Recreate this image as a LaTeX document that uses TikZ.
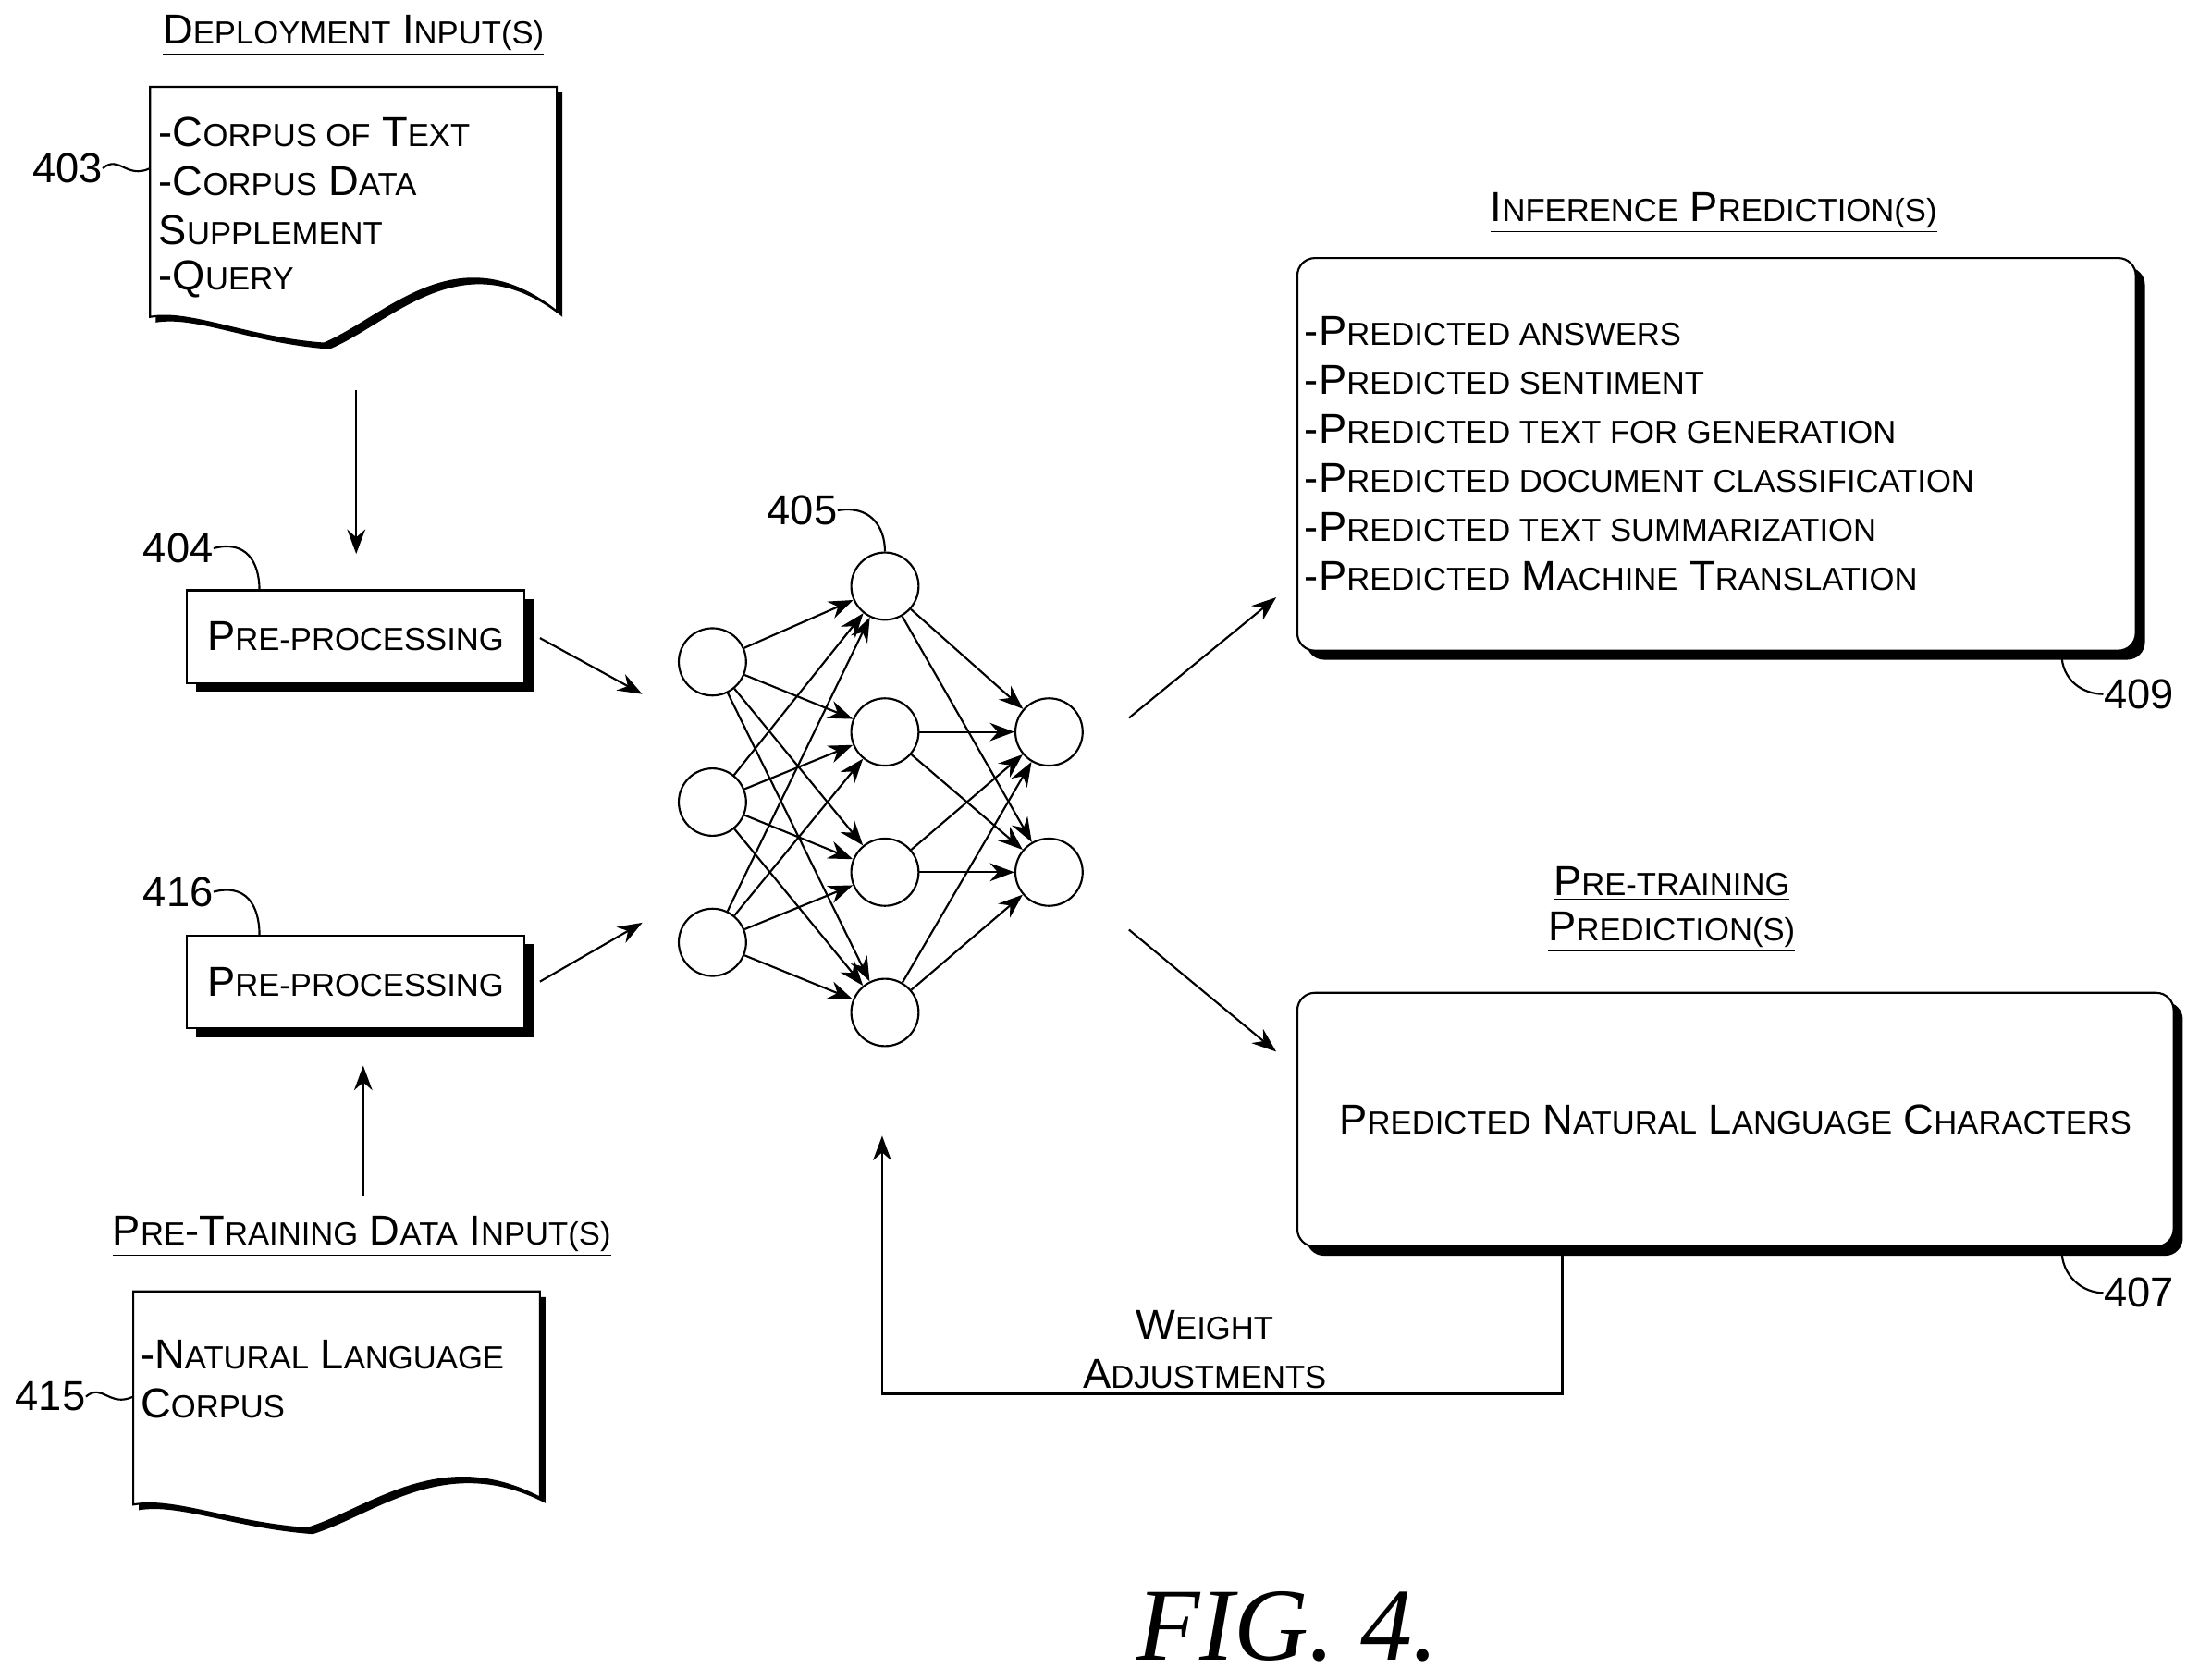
\documentclass[tikz,border=0pt]{standalone}
\usepackage{fontspec}
\setmainfont{Liberation Sans}
\newfontfamily\figfont{Liberation Serif}
\usetikzlibrary{positioning,shadows,arrows.meta}
\newcommand{\sm}[1]{{\fontsize{13}{16}\selectfont #1}}
\tikzset{
  txt/.style={font=\fontsize{17}{20}\selectfont, inner sep=0pt},
  box/.style={draw, thick, fill=white, drop shadow={shadow xshift=1.3mm, shadow yshift=-1.3mm, fill=black, opacity=1}},
  neuron/.style={draw, thick, circle, fill=white, minimum size=0.96cm, inner sep=0pt},
  flow/.style={-{Stealth[length=3.5mm,width=2.6mm]}, thick},
  tag/.style={thick},
}
\begin{document}
\begin{tikzpicture}[x=0.02cm,y=-0.02cm]
  \useasboundingbox (0,0) rectangle (1568,1198);
  % Deployment inputs
  \node[txt] (depT) at (252,25) {\underline{D\sm{EPLOYMENT} I\sm{NPUT(S)}}};
  \fill[black] (111,66) -- (401,66) -- (401,226) .. controls (330,170) and (280,230) .. (235,249) .. controls (180,245) and (140,225) .. (111,230) -- cycle;
  \draw[thick,fill=white] (107,62) -- (397,62) -- (397,222) .. controls (326,166) and (276,226) .. (231,245) .. controls (176,241) and (136,221) .. (107,226) -- cycle;
  \node[txt,anchor=west] (dep1) at (113,94) {-C\sm{ORPUS OF} T\sm{EXT}};
  \node[txt,anchor=west] (dep2) at (113,129) {-C\sm{ORPUS} D\sm{ATA}};
  \node[txt,anchor=west] (dep3) at (113,164) {S\sm{UPPLEMENT}};
  \node[txt,anchor=west] (dep4) at (113,199) {-Q\sm{UERY}};
  \node[txt] (l403) at (48,120) {403};
  \draw[tag] (l403.east) .. controls (85,110) and (90,128) .. (107,120);
  % pre-processing
  \node[box, txt, minimum width=4.82cm, minimum height=1.32cm] (pre1) at (253.5,454) {P\sm{RE-PROCESSING}};
  \node[box, txt, minimum width=4.82cm, minimum height=1.32cm] (pre2) at (253.5,700) {P\sm{RE-PROCESSING}};
  \node[txt] (l404) at (127,391) {404};
  \draw[tag] (l404.east) .. controls (175,385) and (185,400) .. (185,421);
  \node[txt] (l416) at (127,636) {416};
  \draw[tag] (l416.east) .. controls (175,630) and (185,645) .. (185,667);
  \coordinate (a1) at (254,278); \coordinate (a2) at (254,395);
  \draw[flow] (a1) -- (a2);
  \coordinate (b1) at (259,853); \coordinate (b2) at (259,760);
  \draw[flow] (b1) -- (b2);
  % pre-training inputs
  \node[txt] (ptT) at (258,882) {\underline{P\sm{RE}-T\sm{RAINING} D\sm{ATA} I\sm{NPUT(S)}}};
  \fill[black] (99,925) -- (389,925) -- (389,1072) .. controls (318,1035) and (268,1080) .. (223,1094) .. controls (168,1090) and (128,1072) .. (99,1077) -- cycle;
  \draw[thick,fill=white] (95,921) -- (385,921) -- (385,1068) .. controls (314,1031) and (264,1076) .. (219,1090) .. controls (164,1086) and (124,1068) .. (95,1073) -- cycle;
  \node[txt,anchor=west] (pt1) at (100,966) {-N\sm{ATURAL} L\sm{ANGUAGE}};
  \node[txt,anchor=west] (pt2) at (100,1001) {C\sm{ORPUS}};
  \node[txt] (l415) at (36,996) {415};
  \draw[tag] (l415.east) .. controls (73,986) and (78,1004) .. (95,996);
  % network
  \foreach \i/\y in {1/472,2/572,3/672} \node[neuron] (in\i) at (508,\y) {};
  \foreach \i/\y in {1/418,2/522,3/622,4/722} \node[neuron] (h\i) at (631,\y) {};
  \foreach \i/\y in {1/522,2/622} \node[neuron] (out\i) at (748,\y) {};
  \foreach \i in {1,2,3} \foreach \j in {1,2,3,4} \draw[flow] (in\i) -- (h\j);
  \foreach \j in {1,2,3,4} \foreach \k in {1,2} \draw[flow] (h\j) -- (out\k);
  \node[txt] (l405) at (572,364) {405};
  \draw[tag] (l405.east) .. controls (620,360) and (631,375) .. (h1.north);
  \coordinate (c1) at (385,455); \coordinate (c2) at (458,495);
  \coordinate (d1) at (385,700); \coordinate (d2) at (458,658);
  \draw[flow] (c1) -- (c2);
  \draw[flow] (d1) -- (d2);
  \coordinate (e1) at (805,512); \coordinate (e2) at (910,426);
  \coordinate (f1) at (805,663); \coordinate (f2) at (910,750);
  \draw[flow] (e1) -- (e2);
  \draw[flow] (f1) -- (f2);
  % inference
  \node[txt] (infT) at (1222,152) {\underline{I\sm{NFERENCE} P\sm{REDICTION(S)}}};
  \node[box, rounded corners=0.25cm, minimum width=11.96cm, minimum height=5.6cm] (inf) at (1224,324) {};
  \foreach \t [count=\n] in {-P\sm{REDICTED ANSWERS},-P\sm{REDICTED SENTIMENT},-P\sm{REDICTED TEXT FOR GENERATION},-P\sm{REDICTED DOCUMENT CLASSIFICATION},-P\sm{REDICTED TEXT SUMMARIZATION},-P\sm{REDICTED} M\sm{ACHINE} T\sm{RANSLATION}}
    \node[txt,anchor=west] (inf\n) at (930,201+35*\n) {\t};
  \node[txt] (l409) at (1525,495) {409};
  \draw[tag] (1470,466) .. controls (1470,485) and (1485,495) .. (l409.west);
  % pre-training prediction
  \node[txt] (ppT1) at (1192,630) {\underline{P\sm{RE-TRAINING}}};
  \node[txt] (ppT2) at (1192,665) {\underline{P\sm{REDICTION(S)}}};
  \node[box, rounded corners=0.25cm, minimum width=12.5cm, minimum height=3.62cm, txt] (pp) at (1237.5,798.5) {P\sm{REDICTED} N\sm{ATURAL} L\sm{ANGUAGE} C\sm{HARACTERS}};
  \node[txt] (l407) at (1525,922) {407};
  \draw[tag] (1470,891) .. controls (1470,910) and (1485,922) .. (l407.west);
  % weight adjustments
  \coordinate (g1) at (1114,891); \coordinate (g2) at (629,810);
  \draw[flow] (g1) |- (629,994) -- (g2);
  \node[txt] (wa1) at (859,945) {W\sm{EIGHT}};
  \node[txt] (wa2) at (859,980) {A\sm{DJUSTMENTS}};
  \node[font=\fontsize{42}{46}\selectfont\itshape\figfont, inner sep=0pt] (fig) at (918,1160) {FIG. 4.};
\end{tikzpicture}
\end{document}
